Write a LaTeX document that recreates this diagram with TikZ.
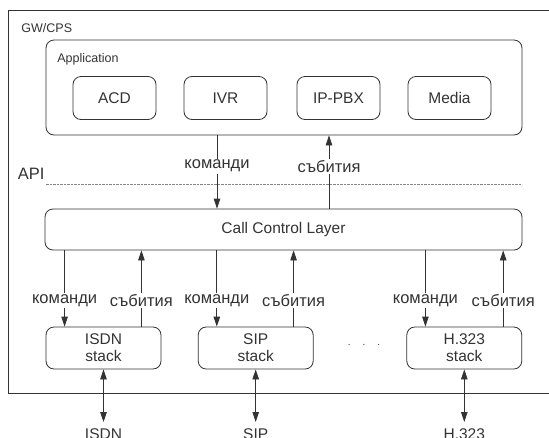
\documentclass[tikz,border=0pt]{standalone}
\usepackage{fontspec}
\setmainfont{Liberation Sans}
\usetikzlibrary{arrows.meta,positioning}
\definecolor{ink}{HTML}{333333}
\begin{document}
\begin{tikzpicture}[x=1pt,y=-1pt,line width=0.8pt,
        box/.style={draw=ink,rounded corners=8pt,inner sep=0pt,align=center,text=ink,
          font=\fontsize{15.5}{17}\selectfont},
        arr/.style={draw=ink,-{Triangle[length=10pt,width=6.5pt]}},
        lbl/.style={fill=white,inner sep=1.5pt,text=ink,font=\fontsize{16.5}{18}\selectfont},
        small/.style={text=ink,inner sep=0pt,font=\fontsize{12.5}{14}\selectfont}]
        \useasboundingbox (0,0) rectangle (549,437);
        \fill[white] (0,0) rectangle (549,437);
        % GW/CPS frame, open to the right
        \draw[ink] (549,10)--(8,10)--(8,393)--(549,393);
        \node[small,anchor=west] (gw) at (21,28) {GW/CPS};
        % application layer
        \node[box,minimum width=476pt,minimum height=95pt] (app) at (284,87.5) {};
        \node[small,anchor=west] (appl) at (57,59) {Application};
        \node[box,minimum width=83pt,minimum height=43pt] (acd) at (114.5,98) {ACD};
        \node[box,minimum width=83pt,minimum height=43pt] (ivr) at (225.5,98) {IVR};
        \node[box,minimum width=83pt,minimum height=43pt] (pbx) at (338.5,98) {IP-PBX};
        \node[box,minimum width=83pt,minimum height=43pt] (media) at (449.5,98) {Media};
        % API border
        \node[lbl,fill=none,anchor=west] (api) at (16,174) {API};
        \draw[ink!60,line width=0.6pt,dash pattern=on 2.5pt off 1pt] (api.east |- 0,184)--(app.east |- 0,184);
        % call control
        \node[box,minimum width=477pt,minimum height=41pt] (ccl) at (283.5,229.5) {Call Control Layer};
        \draw[arr] (217,0 |- app.south)--(217,0 |- ccl.north) node[lbl,pos=0.42]{команди};
        \draw[arr] (329,0 |- ccl.north)--(329,0 |- app.south) node[lbl,pos=0.58]{събития};
        % protocol stacks
        \node[box,minimum width=115pt,minimum height=42pt] (isdn) at (103.5,348) {ISDN\\stack};
        \node[box,minimum width=115pt,minimum height=42pt] (sip) at (255.7,348) {SIP\\stack};
        \node[box,minimum width=115pt,minimum height=42pt] (h323) at (464.3,348) {H.323\\stack};
        \node[text=ink] (dots) at (364,345) {.\hspace{12pt}.\hspace{12pt}.};
        \draw[arr] ([xshift=19pt]isdn.north west |- ccl.south)--([xshift=19pt]isdn.north west) node[lbl,pos=0.66]{команди};
        \draw[arr] ([xshift=-20pt]isdn.north east)--([xshift=-20pt]isdn.north east |- ccl.south) node[lbl,pos=0.34]{събития};
        \draw[arr] ([xshift=19pt]sip.north west |- ccl.south)--([xshift=19pt]sip.north west) node[lbl,pos=0.66]{команди};
        \draw[arr] ([xshift=-20pt]sip.north east)--([xshift=-20pt]sip.north east |- ccl.south) node[lbl,pos=0.34]{събития};
        \draw[arr] ([xshift=19pt]h323.north west |- ccl.south)--([xshift=19pt]h323.north west) node[lbl,pos=0.66]{команди};
        \draw[arr] ([xshift=-19pt]h323.north east)--([xshift=-19pt]h323.north east |- ccl.south) node[lbl,pos=0.34]{събития};
        % network side
        \coordinate (isdnend) at (isdn.south |- 0,422);
        \coordinate (sipend) at (sip.south |- 0,422);
        \coordinate (h323end) at (h323.south |- 0,422);
        \draw[arr,{Triangle[length=10pt,width=6.5pt]}-{Triangle[length=10pt,width=6.5pt]}] (isdn.south)--(isdnend);
        \draw[arr,{Triangle[length=10pt,width=6.5pt]}-{Triangle[length=10pt,width=6.5pt]}] (sip.south)--(sipend);
        \draw[arr,{Triangle[length=10pt,width=6.5pt]}-{Triangle[length=10pt,width=6.5pt]}] (h323.south)--(h323end);
        \node[box,draw=none,anchor=north] (isdnnet) at (isdnend |- 0,428) {ISDN};
        \node[box,draw=none,anchor=north] (sipnet) at (sipend |- 0,428) {SIP};
        \node[box,draw=none,anchor=north] (h323net) at (h323end |- 0,428) {H.323};
\end{tikzpicture}
\end{document}
